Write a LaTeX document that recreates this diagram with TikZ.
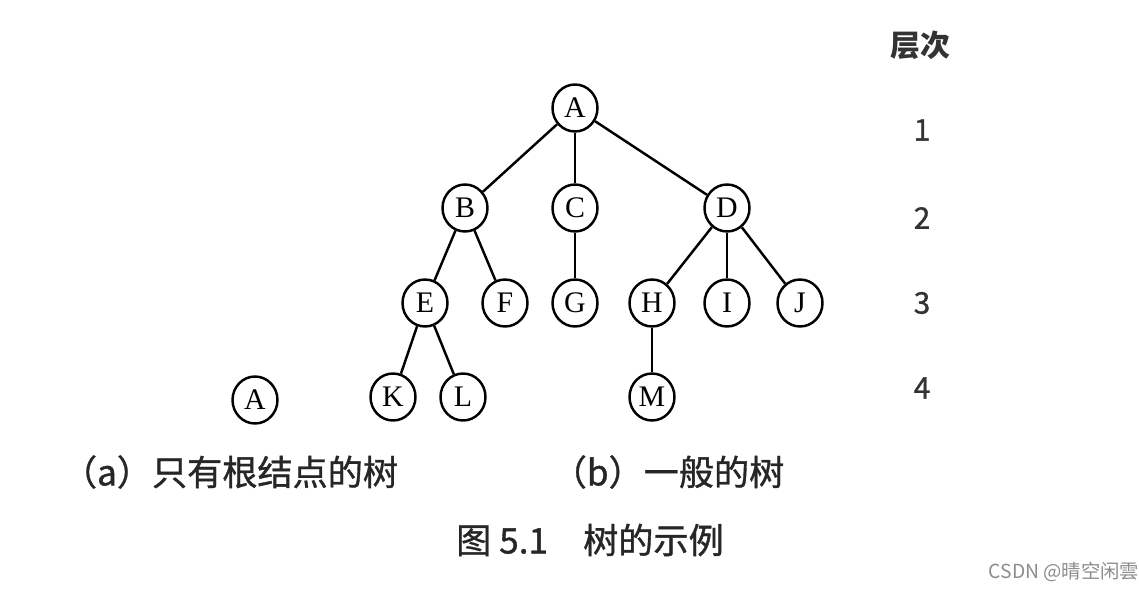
\documentclass[tikz,border=0pt]{standalone}
\usepackage{fontspec}
\setmainfont{Liberation Serif}
\newfontfamily\cjk{Noto Sans CJK SC}
\newfontfamily\cjkmid[FakeBold=1]{Noto Sans CJK SC}
\usetikzlibrary{shapes.geometric}
\tikzstyle{vertex}=[ellipse,draw,line width=1.4pt,minimum width=0.9cm,minimum height=0.94cm,inner sep=0pt,font=\fontsize{17}{17}\selectfont]
\tikzstyle{edge} = [draw,line width=1.4pt]
\tikzstyle{level} = [font=\cjkmid\fontsize{17}{17}\selectfont,text=black!80]
\tikzstyle{caption} = [font=\cjkmid\fontsize{20}{20}\selectfont,text=black!85]

\begin{document}
\begin{tikzpicture}[x=0.02cm,y=-0.02cm]
	\useasboundingbox (0,0) rectangle (1139,591);
			% First we draw the vertices
			\foreach \pos/\name in {{(575,108)/A}, {(465,208)/B}, {(575,208)/C}, {(727,208)/D},
									{(425,303)/E}, {(505,303)/F}, {(575,303)/G}, {(652,303)/H},
									{(727,303)/I}, {(800,303)/J}, {(393,397)/K}, {(463,397)/L}, {(652,397)/M}}
			\node[vertex] (\name) at \pos {\name};

			% the tree that is only a root
			\node[vertex] (root) at (255,400) {A};

			% Connect parents with children
			\foreach \source/ \dest in {A/B, A/C, A/D, B/E, B/F, C/G, D/H, D/I, D/J, E/K, E/L, H/M}
			\path[edge] (\source) -- (\dest);

			% level numbers
			\node[level,font=\cjk\bfseries\fontsize{17}{17}\selectfont] (levels) at (920,45) {层次};
			\foreach \y/\num in {130/1, 218/2, 303/3, 388/4}
			\node[level] (level\num) at (922,\y) {\num};

			% captions
			\node[caption] (capa) at (230,472) {（a）只有根结点的树};
			\node[caption] (capb) at (668,472) {（b）一般的树};
			\node[caption] (fig) at (590,540) {图 5.1\quad 树的示例};
			\node[font=\cjk\fontsize{11}{11}\selectfont,text=black!45] (mark) at (1064,572) {CSDN @晴空闲雲};
		
		\end{tikzpicture}
\end{document}
